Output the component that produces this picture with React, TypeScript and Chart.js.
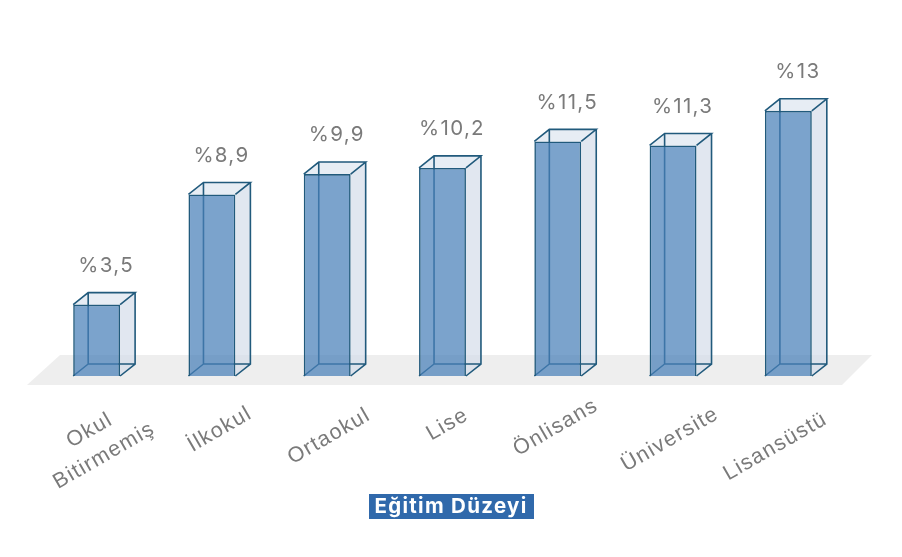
import React, { useEffect, useRef } from "react";
import { Chart, registerables } from "chart.js";

Chart.register(...registerables);

const categories: (string | string[])[] = [
  ["Okul", "Bitirmemiş"],
  "İlkokul",
  "Ortaokul",
  "Lise",
  "Önlisans",
  "Üniversite",
  "Lisansüstü",
];
const rates = [3.5, 8.9, 9.9, 10.2, 11.5, 11.3, 13];
const valueLabels = ["%3,5", "%8,9", "%9,9", "%10,2", "%11,5", "%11,3", "%13"];
const axisTitle = "Eğitim Düzeyi";
const tickNudgeX = [-13, 2, -4, -1, -8, -9, -19];
const tickNudgeY = [1, 0, 7, -5, -2, 10, 17];

const DX = 15;
const DY = -12;
const EDGE = "#215a7c";

const poly = (c: CanvasRenderingContext2D, pts: number[][]) => {
  c.beginPath();
  pts.forEach((p, i) => (i ? c.lineTo(p[0], p[1]) : c.moveTo(p[0], p[1])));
  c.closePath();
};

const boxPlugin = {
  id: "box3d",
  beforeLayout(chart: any) {
    const s = chart.scales.x;
    if (s && !s.__wrapped) {
      s.__wrapped = true;
      s._getXAxisLabelAlignment = () => "center";
      const orig = s._computeLabelItems.bind(s);
      s._computeLabelItems = (area: any) => {
        const items = orig(area);
        items.forEach((it: any, i: number) => {
          it.options.translation[0] += tickNudgeX[i];
          it.options.translation[1] += tickNudgeY[i];
        });
        return items;
      };
    }
  },
  beforeDraw(chart: any) {
    const c = chart.ctx;
    const t = chart.titleBlock;
    (c as any).letterSpacing = "1.3px";
    if (!t) return;
    c.save();
    c.fillStyle = "#3069ab";
    c.fillRect(369, t.top, 165, 25);
    c.restore();
  },
  beforeDatasetsDraw(chart: any) {
    const c: CanvasRenderingContext2D = chart.ctx;
    const x = chart.scales.x;
    const y = chart.scales.y;
    const base = y.getPixelForValue(0);
    c.save();
    c.fillStyle = "#eeeeee";
    poly(c, [
      [x.left - 12, base + 9],
      [x.left + 21, base - 21],
      [x.right + 26, base - 21],
      [x.right - 4, base + 9],
    ]);
    c.fill();
    chart.getDatasetMeta(0).data.forEach((b: any) => {
      const l = b.x - b.width / 2;
      const r = b.x + b.width / 2;
      const t = b.y;
      c.fillStyle = "rgba(214,222,234,0.72)";
      poly(c, [[r, t], [r + DX, t + DY], [r + DX, base + DY], [r, base]]);
      c.fill();
      c.fillStyle = "rgba(222,230,240,0.72)";
      poly(c, [[l, t], [l + DX, t + DY], [r + DX, t + DY], [r, t]]);
      c.fill();
      c.strokeStyle = EDGE;
      c.lineWidth = 1.6;
      c.beginPath();
      c.moveTo(l, t); c.lineTo(l + DX, t + DY); c.lineTo(r + DX, t + DY); c.lineTo(r, t);
      c.moveTo(r + DX, t + DY); c.lineTo(r + DX, base + DY); c.lineTo(r, base);
      c.moveTo(l + DX, t + DY); c.lineTo(l + DX, base + DY); c.lineTo(r + DX, base + DY);
      c.moveTo(l + DX, base + DY); c.lineTo(l, base);
      c.stroke();
    });
    c.restore();
  },
  afterDatasetsDraw(chart: any) {
    const c: CanvasRenderingContext2D = chart.ctx;
    c.save();
    c.fillStyle = "#7a7a7a";
    c.font = "20.5px Inter, 'Liberation Sans', sans-serif";
    c.textAlign = "center";
    c.textBaseline = "middle";
    chart.getDatasetMeta(0).data.forEach((b: any, i: number) => {
      c.fillText(valueLabels[i], b.x + 9.5, b.y - 39);
    });
    c.restore();
  },
};

export default function App() {
  const ref = useRef<HTMLCanvasElement>(null);
  useEffect(() => {
    const chart = new Chart(ref.current as HTMLCanvasElement, {
      type: "bar",
      data: {
        labels: categories as any,
        datasets: [
          {
            data: rates,
            backgroundColor: "rgba(72,128,184,0.72)",
            borderColor: EDGE,
            borderWidth: 1.6,
            categoryPercentage: 1,
            barPercentage: 0.407,
          },
        ],
      },
      options: {
        animation: false,
        responsive: false,
        layout: { padding: { left: 0, right: 0, top: 49.6, bottom: 0 } },
        plugins: {
          legend: { display: false },
          tooltip: { enabled: false },
          title: {
            display: true,
            text: axisTitle,
            position: "bottom",
            color: "#ffffff",
            font: { family: "Inter, 'Liberation Sans', sans-serif", size: 20.5, weight: "bold", lineHeight: 25 / 20.5 },
            padding: { top: 0, bottom: 38 },
          },
        },
        scales: {
          x: {
            grid: { display: false },
            border: { display: false },
            afterFit: (s: any) => {
              s.height = 118;
              s.paddingLeft = 39;
              s.paddingRight = 56;
            },
            ticks: {
              autoSkip: false,
              minRotation: 30,
              maxRotation: 30,
              color: "#7a7a7a",
              padding: 33,
              labelOffset: 6,
              font: { family: "'Liberation Sans', sans-serif", size: 21.5, lineHeight: 1.35 },
            },
          },
          y: { display: false, min: 0, max: 16 },
        },
      } as any,
      plugins: [boxPlugin as any],
    });
    return () => chart.destroy();
  }, []);
  return (
    <div style={{ position: "absolute", left: 0, top: 0 }}>
      <canvas ref={ref} width={902} height={557} style={{ display: "block" }} />
    </div>
  );
}
